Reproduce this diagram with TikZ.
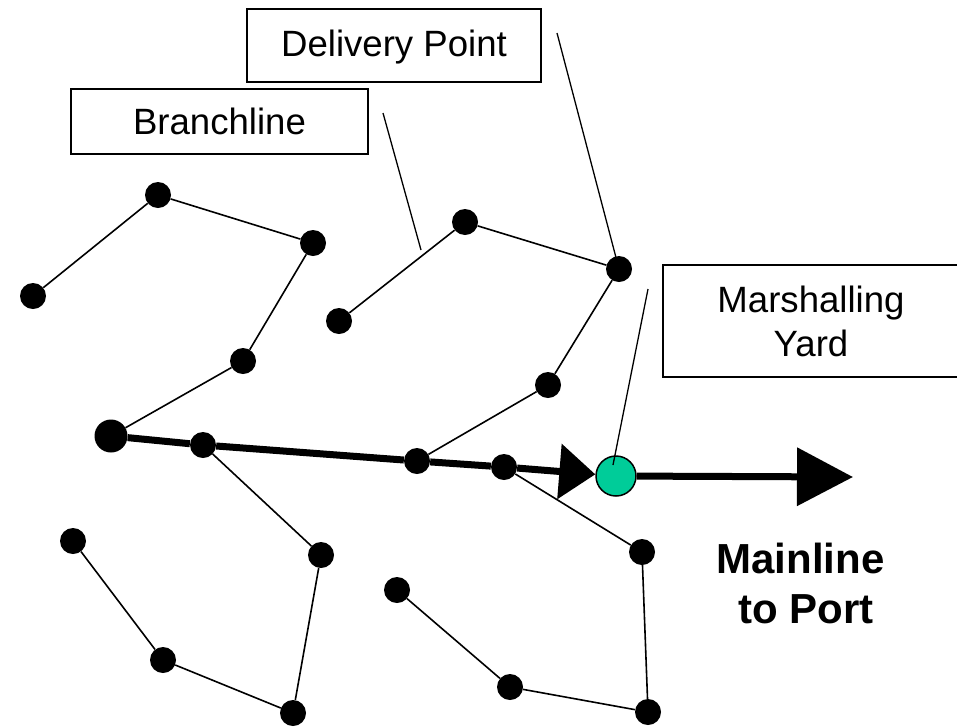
\documentclass[tikz,border=0pt]{standalone}
\usepackage{fontspec}
\setmainfont{Liberation Sans}
\usetikzlibrary{arrows.meta}
\definecolor{yardgreen}{RGB}{0,204,153}
\begin{document}
\begin{tikzpicture}[x=1pt,y=-1pt,
  dot/.style={circle,fill=black,inner sep=0pt,minimum size=26pt},
  bigdot/.style={circle,fill=black,inner sep=0pt,minimum size=33pt},
  yard/.style={circle,fill=yardgreen,draw=black,line width=1.5pt,inner sep=0pt,minimum size=40pt},
  branch/.style={line width=1.6pt},
  mainline/.style={line width=7pt},
  leader/.style={line width=1.3pt},
  lbl/.style={draw=black,line width=1.3pt,font=\fontsize{36.6}{44}\selectfont,inner sep=0pt,align=center},
]
\useasboundingbox (0,0) rectangle (957,726);

% label boxes
\node[lbl, minimum width=294pt, minimum height=73pt, text height=26pt, text depth=5pt] (dp) at (394,45.5) {Delivery Point};
\node[lbl, minimum width=297pt, minimum height=65pt, text height=26pt, text depth=0pt] (bl) at (219.5,121.5) {Branchline};
\node[lbl, minimum width=296pt, minimum height=112pt] (my) at (811,321) {Marshalling\\Yard};
\node[font=\fontsize{42}{50}\selectfont\bfseries, align=center, inner sep=0pt] (ml) at (800.5,583) {Mainline\\\hspace*{11pt}to Port};

% nodes
\node[dot] (A) at (33,296) {};
\node[dot] (B) at (158,195) {};
\node[dot] (C) at (313,243) {};
\node[dot] (D) at (243,361) {};
\node[bigdot] (E) at (111,436) {};
\node[dot] (F) at (203,445) {};
\node[dot] (G) at (417,461) {};
\node[dot] (H) at (504,467) {};
\node[yard] (Y) at (616,476) {};

\node[dot] (I) at (339,321) {};
\node[dot] (J) at (465,222) {};
\node[dot] (K) at (619,269) {};
\node[dot] (L) at (548,385) {};

\node[dot] (M) at (321,555) {};
\node[dot] (N) at (293,713) {};
\node[dot] (O) at (163,660) {};
\node[dot] (P) at (73,541) {};

\node[dot] (Q) at (642,552) {};
\node[dot] (R) at (648,712) {};
\node[dot] (S) at (510,687) {};
\node[dot] (T) at (397,590) {};

% branch lines
\draw[branch] (A) -- (B);
\draw[branch] (B) -- (C);
\draw[branch] (C) -- (D);
\draw[branch] (D) -- (E);
\draw[branch] (I) -- (J);
\draw[branch] (J) -- (K);
\draw[branch] (K) -- (L);
\draw[branch] (L) -- (G);
\draw[branch] (F) -- (M);
\draw[branch] (M) -- (N);
\draw[branch] (N) -- (O);
\draw[branch] (O) -- (P);
\draw[branch] (H) -- (Q);
\draw[branch] (Q) -- (R);
\draw[branch] (R) -- (S);
\draw[branch] (S) -- (T);

% main line
\draw[mainline] (E) -- (F);
\draw[mainline] (F) -- (G);
\draw[mainline] (G) -- (H);
\draw[mainline,-{Triangle[length=36pt,width=54pt]}] (H) -- (Y);
\coordinate (port) at (853,477);
\draw[mainline,-{Triangle[length=56pt,width=57pt]}] (Y) -- (port);

% leader lines
\coordinate (blL) at (383,113);
\coordinate (blE) at (421,250);
\draw[leader] (blL) -- (blE);
\coordinate (dpL) at (557,33);
\draw[leader] (dpL) -- (K.center);
\coordinate (myL) at (648,289);
\coordinate (myE) at (613,465);
\draw[leader] (myL) -- (myE);
\end{tikzpicture}
\end{document}
